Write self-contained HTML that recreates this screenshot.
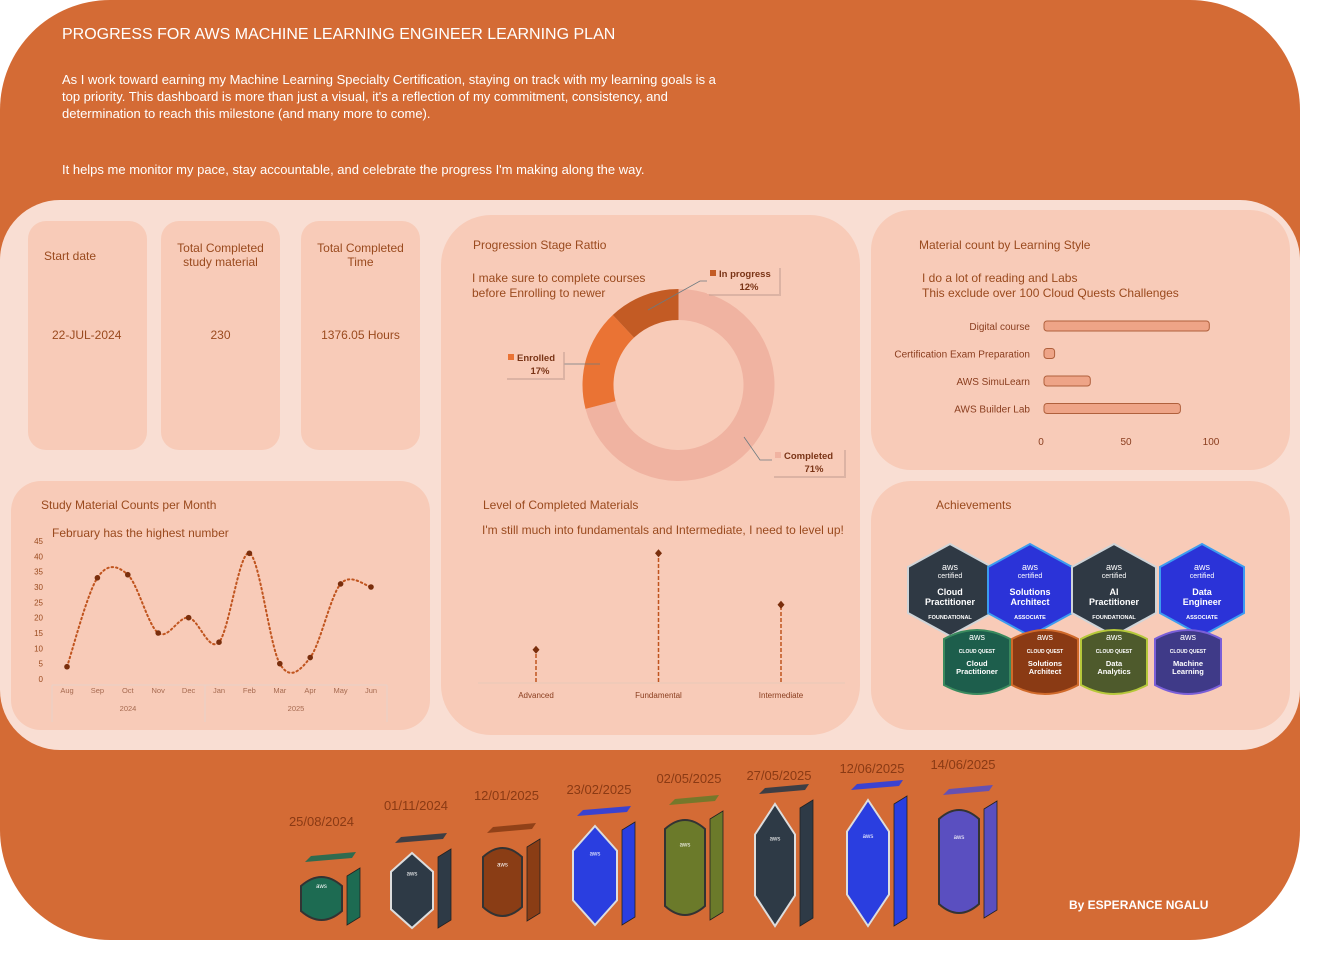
<!DOCTYPE html>
<html><head><meta charset="utf-8">
<style>
body{margin:0;width:1322px;height:960px;background:#fff;font-family:"Liberation Sans",sans-serif;position:relative;overflow:hidden}
.abs{position:absolute}
.card{position:absolute;background:#f8cbb8;border-radius:18px}
.t{position:absolute;color:#9a4a1e;font-size:12px}
</style></head><body>
<div class="abs" style="left:0;top:0;width:1300px;height:940px;background:#d46b35;border-radius:110px"></div>
<div class="abs" style="left:62px;top:26px;color:#fff;font-size:16px">PROGRESS FOR AWS MACHINE LEARNING ENGINEER LEARNING PLAN</div>
<div class="abs" style="left:62px;top:71px;color:#fff;font-size:13px;line-height:17px;white-space:nowrap">As I work toward earning my Machine Learning Specialty Certification, staying on track with my learning goals is a<br>top priority. This dashboard is more than just a visual, it's a reflection of my commitment, consistency, and<br>determination to reach this milestone (and many more to come).</div>
<div class="abs" style="left:62px;top:162px;color:#fff;font-size:13px">It helps me monitor my pace, stay accountable, and celebrate the progress I'm making along the way.</div>
<div class="abs" style="left:0;top:200px;width:1300px;height:550px;background:#f9ded3;border-radius:60px"></div>

<div class="card" style="left:28px;top:221px;width:119px;height:229px"><div class="t" style="left:16px;top:28px">Start date</div><div class="t" style="left:24px;top:107px">22-JUL-2024</div></div>
<div class="card" style="left:161px;top:221px;width:119px;height:229px"><div class="t" style="left:0;width:119px;text-align:center;top:20px">Total Completed<br>study material</div><div class="t" style="left:0;width:119px;text-align:center;top:107px">230</div></div>
<div class="card" style="left:301px;top:221px;width:119px;height:229px"><div class="t" style="left:0;width:119px;text-align:center;top:20px">Total Completed<br>Time</div><div class="t" style="left:0;width:119px;text-align:center;top:107px">1376.05 Hours</div></div>
<div class="card" style="left:441px;top:215px;width:419px;height:520px;border-radius:50px"></div>
<div class="card" style="left:871px;top:210px;width:419px;height:260px;border-radius:40px"></div>
<div class="card" style="left:11px;top:481px;width:419px;height:249px;border-radius:30px"></div>
<div class="card" style="left:871px;top:481px;width:419px;height:249px;border-radius:40px"></div>

<div class="t" style="left:473px;top:238px">Progression Stage Rattio</div>
<div class="t" style="left:472px;top:271px;line-height:15px">I make sure to complete courses<br>before Enrolling to newer</div>
<div class="t" style="left:919px;top:238px">Material count by Learning Style</div>
<div class="t" style="left:922px;top:271px;line-height:15px">I do a lot of reading and Labs<br>This exclude over 100 Cloud Quests Challenges</div>
<div class="t" style="left:41px;top:498px">Study Material Counts per Month</div>
<div class="t" style="left:52px;top:526px">February has the highest number</div>
<div class="t" style="left:483px;top:498px">Level of Completed Materials</div>
<div class="t" style="left:482px;top:523px">I'm still much into fundamentals and Intermediate, I need to level up!</div>
<div class="t" style="left:936px;top:498px">Achievements</div>
<div class="abs" style="left:1069px;top:898px;color:#fff;font-size:12px;font-weight:bold">By ESPERANCE NGALU</div>

<svg id="chart" class="abs" style="left:0;top:0" width="1322" height="960"></svg>
<script>
const months=["Aug","Sep","Oct","Nov","Dec","Jan","Feb","Mar","Apr","May","Jun"];
const monthCounts=[4,33,34,15,20,12,41,5,7,31,30];
const yTicks=[0,5,10,15,20,25,30,35,40,45];
const barCats=["Digital course","Certification Exam Preparation","AWS SimuLearn","AWS Builder Lab"];
const barVals=[99,8,29,82];
const barTicks=[0,50,100];
const stageNames=["Completed","Enrolled","In progress"];
const stageVals=[71,17,12];
const levelCats=["Advanced","Fundamental","Intermediate"];
const levelVals=[10,40,24];
const badgeDates=["25/08/2024","01/11/2024","12/01/2025","23/02/2025","02/05/2025","27/05/2025","12/06/2025","14/06/2025"];

const S=document.getElementById('chart');const NS='http://www.w3.org/2000/svg';
function mk(tag,at,txt){const e=document.createElementNS(NS,tag);for(const k in at)e.setAttribute(k,at[k]);if(txt!=null)e.textContent=txt;S.appendChild(e);return e;}
// line chart
const lx=i=>67+i*30.4, ly=v=>679-v*(138/45);
yTicks.forEach(t=>{const e=mk('text',{x:43,y:ly(t)+3,'font-size':8,fill:'#9a4a1e','text-anchor':'end'},t);

});
mk('path',{d:'M52 685V722M205 685V722M387 685V722M52 685H387',stroke:'#e8d2c8',fill:'none'});
months.forEach((m,i)=>{const e=mk('text',{x:lx(i),y:693,'font-size':7.5,fill:'#a66a50','text-anchor':'middle'},m);

});
mk('text',{x:128,y:711,'font-size':7.5,fill:'#a66a50','text-anchor':'middle'},'2024');
mk('text',{x:296,y:711,'font-size':7.5,fill:'#a66a50','text-anchor':'middle'},'2025');
let pts=monthCounts.map((v,i)=>[lx(i),ly(v)]);let d='M'+pts[0];
for(let i=0;i<pts.length-1;i++){const p0=pts[i-1]||pts[i],p1=pts[i],p2=pts[i+1],p3=pts[i+2]||p2;
d+=` C${p1[0]+(p2[0]-p0[0])/6},${p1[1]+(p2[1]-p0[1])/6} ${p2[0]-(p3[0]-p1[0])/6},${p2[1]-(p3[1]-p1[1])/6} ${p2[0]},${p2[1]}`;}
const ln=mk('path',{d,fill:'none',stroke:'#c0541e','stroke-width':2,'stroke-dasharray':'1.5 3','stroke-linecap':'round'});


pts.forEach(p=>{const c=mk('circle',{cx:p[0],cy:p[1],r:2.8,fill:'#7a2e0c'});

});
// bars
const bx=v=>1041+v*1.7;
barCats.forEach((c,i)=>{const y=326+i*27.5;
const t=mk('text',{x:1030,y:y+4,'font-size':10,fill:'#8a3d1e','text-anchor':'end'},c);


const r=mk('rect',{x:1044,y:y-5,width:Math.max(2,bx(barVals[i])-1044),height:10,rx:3,fill:'#eea487',stroke:'#b0603c','stroke-width':1});

});
barTicks.forEach(t=>{const e=mk('text',{x:bx(t),y:445,'font-size':10,fill:'#8a3d1e','text-anchor':'middle'},t);

});
// donut
const cx=678.5,cy=385,R=96,r0=65,cols=['#f0b3a1','#ea7334','#c35b24'];
const tot=stageVals.reduce((a,b)=>a+b,0);let a0=0;
stageVals.forEach((v,i)=>{const a1=a0+v/tot*2*Math.PI;const P=(r,a)=>[cx+r*Math.sin(a),cy-r*Math.cos(a)];const L=(a1-a0)>Math.PI?1:0;
const [x1,y1]=P(R,a0),[x2,y2]=P(R,a1),[x3,y3]=P(r0,a1),[x4,y4]=P(r0,a0);
const s=mk('path',{d:`M${x1} ${y1}A${R} ${R} 0 ${L} 1 ${x2} ${y2}L${x3} ${y3}A${r0} ${r0} 0 ${L} 0 ${x4} ${y4}Z`,fill:cols[i]});


a0=a1;});
const labs=[[772,448,'Completed','M744 437L760 460H772'],[505,350,'Enrolled','M600 364H564'],[707,266,'In progress','M648 310L700 281H707']];
labs.forEach(l=>{const w=l[2]=='Enrolled'?58:72;const idx=stageNames.indexOf(l[2]);
mk('path',{d:l[3],stroke:'#6c7a80',fill:'none','stroke-width':0.8});
mk('rect',{x:l[0]+2,y:l[1]+2,width:w,height:28,fill:'#c9a396',opacity:.6});
mk('rect',{x:l[0],y:l[1],width:w,height:28,fill:'#f8cbb8'});
mk('rect',{x:l[0]+3,y:l[1]+4,width:6,height:6,fill:cols[idx]});
const e=mk('text',{x:l[0]+12,y:l[1]+11,'font-size':9.5,'font-weight':'bold',fill:'#7a3416'},l[2]);


mk('text',{x:l[0]+w/2+6,y:l[1]+24,'font-size':9.5,'font-weight':'bold',fill:'#7a3416','text-anchor':'middle'},stageVals[idx]+'%');});
// lollipop
const px=i=>536+i*122.5, py=v=>682-v*3.22;
mk('line',{x1:478,y1:683,x2:845,y2:683,stroke:'#e8c8b8'});
levelCats.forEach((c,i)=>{const l=mk('line',{x1:px(i),y1:682,x2:px(i),y2:py(levelVals[i]),stroke:'#c0541e','stroke-width':1.5,'stroke-dasharray':'4 2'});


mk('path',{d:`M${px(i)} ${py(levelVals[i])-4}l3.5 4-3.5 4-3.5-4z`,fill:'#7a2e0c'});
const t=mk('text',{x:px(i),y:698,'font-size':8,fill:'#8a3d1e','text-anchor':'middle'},c);

});
// achievements
function hex(x,y,w,h,fill,stroke){return mk('path',{d:`M${x} ${y-h/2}L${x+w/2} ${y-h/4}V${y+h/4}L${x} ${y+h/2}L${x-w/2} ${y+h/4}V${y-h/4}Z`,fill,stroke,'stroke-width':2});}
function shield(x,y,w,h,fill,stroke){return mk('path',{d:`M${x-w/2} ${y-h/2+14}Q${x} ${y-h/2-4} ${x+w/2} ${y-h/2+14}V${y+h/2-14}Q${x} ${y+h/2+4} ${x-w/2} ${y+h/2-14}Z`,fill,stroke,'stroke-width':2});}
function txt(x,y,s,t,w){const e=mk('text',{x,y,'font-size':s,fill:'#fff','text-anchor':'middle','font-weight':w||'normal'},t);

return e;}
const topBadges=[[950,'#2f3944','#cfd4d8','Cloud','Practitioner','FOUNDATIONAL'],[1030,'#2b33d8','#3c9cf0','Solutions','Architect','ASSOCIATE'],[1114,'#2f3944','#cfd4d8','AI','Practitioner','FOUNDATIONAL'],[1202,'#2b33d8','#3c9cf0','Data','Engineer','ASSOCIATE']];
topBadges.forEach(b=>{const h=hex(b[0],590,84,92,b[1],b[2]);


txt(b[0],570,9,'aws');txt(b[0],578,7,'certified');txt(b[0],595,9,b[3],'bold');txt(b[0],605,9,b[4],'bold');txt(b[0],619,5.5,b[5],'bold');});
const botBadges=[[977,'#1d5e4c','#3a8a5e','Cloud','Practitioner'],[1045,'#8a3a14','#d06a2a','Solutions','Architect'],[1114,'#4e5a2c','#b6c83a','Data','Analytics'],[1188,'#3f3a88','#7a5fd8','Machine','Learning']];
botBadges.forEach(b=>{const s=shield(b[0],662,66,74,b[1],b[2]);


txt(b[0],640,9,'aws');txt(b[0],653,5,'CLOUD QUEST','bold');txt(b[0],666,7.5,b[3],'bold');txt(b[0],674,7.5,b[4],'bold');});
// timeline badges
const tb=[[301,342,872,925,'#1d6b52','s'],[391,433,853,928,'#2e3a46','h'],[483,522,843,921,'#8a3d15','s'],[573,617,826,925,'#2a3ee0','h'],[665,705,815,920,'#6b7a2a','s'],[755,795,804,926,'#2e3a46','h'],[847,889,800,926,'#2a3ee0','h'],[939,979,805,918,'#5a4fc0','s']];
const dy=[820,804,794,788,777,774,767,763];
tb.forEach((b,i)=>{const [x1,x2,y1,y2,c,k]=b;const cxx=(x1+x2)/2,h=y2-y1,w=x2-x1;
mk('path',{d:`M${x1+4} ${y1-10}L${x2+10} ${y1-14}L${x2+14} ${y1-20}L${x1+10} ${y1-16}Z`,fill:c,opacity:.9});
mk('path',{d:`M${x2+5} ${y1+4}L${x2+18} ${y1-4}V${y2-8}L${x2+5} ${y2}Z`,fill:c,stroke:'#222','stroke-width':.8});
const f=k=='h'?hex(cxx,(y1+y2)/2,w,h,c,'#ddd'):shield(cxx,(y1+y2)/2,w,h,c,'#333');


txt(cxx,y1+h*0.3,6,'aws');
const dt=mk('text',{x:(x1+x2)/2+(i==0?0:4),y:dy[i]+6,'font-size':13,fill:'#8a3a14','text-anchor':'middle'},badgeDates[i]);

});
</script>
</body></html>
